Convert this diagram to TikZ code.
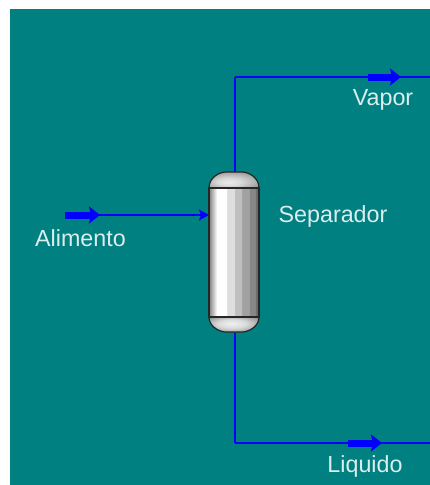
\documentclass[tikz,border=0pt]{standalone}
\usepackage{fontspec}
\setmainfont{Liberation Sans}
\usetikzlibrary{arrows,arrows.meta}
\pgfdeclarehorizontalshading{vesselbody}{100bp}{
  color(0bp)=(black!50); color(25bp)=(black!50); color(33bp)=(white); color(42.5bp)=(white);
  color(43bp)=(black!13); color(50.5bp)=(black!13); color(51bp)=(black!25); color(57.5bp)=(black!25);
  color(58bp)=(black!37); color(65bp)=(black!37); color(65.5bp)=(black!47); color(71bp)=(black!47);
  color(72bp)=(black!58); color(100bp)=(black!58)}
\pgfdeclareradialshading{captop}{\pgfpoint{-6bp}{-8bp}}{
  color(0bp)=(black!8); color(12bp)=(black!15); color(25bp)=(black!32); color(40bp)=(black!55); color(50bp)=(black!62)}
\pgfdeclareradialshading{capbottom}{\pgfpoint{-3bp}{4bp}}{
  color(0bp)=(black!6); color(14bp)=(black!14); color(28bp)=(black!36); color(40bp)=(black!58); color(50bp)=(black!65)}
\definecolor{plantbg}{RGB}{0,128,128}
\definecolor{streamblue}{RGB}{0,0,255}
\tikzset{
  stream/.style={draw=streamblue, line width=2pt},
  feedline/.style={draw=streamblue, line width=1.4pt},
  streamtag/.style={draw=streamblue, line width=7pt, -{Stealth[length=11pt,width=17pt,inset=2pt]}},
  lbl/.style={text=white!86!plantbg, font=\fontsize{23.3pt}{26pt}\selectfont, inner sep=0pt},
  vesselcap/.style={draw=black!85, line width=1.2pt}
}

\begin{document}
\begin{tikzpicture}[x=1pt,y=-1pt]
  \useasboundingbox (0,0) rectangle (430,485);
  \fill[white] (0,0) rectangle (430,485);
  \fill[plantbg] (10,9) rectangle (430,485);

  % streams
  \coordinate (feedstart) at (65,215);
  \coordinate (feedend) at (209,215);
  \coordinate (vaportop) at (235,172);
  \coordinate (vaporbend) at (235,77);
  \coordinate (vaporout) at (430,77);
  \coordinate (liqbot) at (235,333);
  \coordinate (liqbend) at (235,443);
  \coordinate (liqout) at (430,443);
  \coordinate (vaptag1) at (368,77);
  \coordinate (vaptag2) at (401,77);
  \coordinate (liqtag1) at (348,443);
  \coordinate (liqtag2) at (382,443);
  \coordinate (feedtag) at (100,215);

  \path[stream]
  (vaportop) edge (vaporbend)
  (vaporbend) edge (vaporout)
  (liqbot) edge (liqbend)
  (liqbend) edge (liqout);
  \draw[feedline, -{Stealth[length=10pt,width=11pt,inset=2pt]}] (feedstart) -- (feedend);
  \draw[streamtag] (feedstart) -- (feedtag);
  \draw[streamtag] (vaptag1) -- (vaptag2);
  \draw[streamtag] (liqtag1) -- (liqtag2);

  % vessel
  \shade[vesselcap, shading=captop]
  (209,188) .. controls (209,177) and (220,172) .. (226,172) -- (242,172)
  .. controls (248,172) and (259,177) .. (259,188) -- cycle;
  \shade[vesselcap, shading=capbottom]
  (209,317) .. controls (209,327) and (220,332) .. (226,332) -- (242,332)
  .. controls (248,332) and (259,327) .. (259,317) -- cycle;
  \node (vessel) [draw=black!85, line width=1.2pt, shading=vesselbody, shading angle=0,
    minimum width=50pt, minimum height=129pt, inner sep=0pt] at (234,252.5) {};

  % labels
  \node (alimento) [lbl] at (80.5,238) {Alimento};
  \node (separador) [lbl] at (333,216) {Separador};
  \node (vapor) [lbl] at (383,100) {Vapor};
  \node (liquido) [lbl] at (365,466) {Liquido};
\end{tikzpicture}
\end{document}
